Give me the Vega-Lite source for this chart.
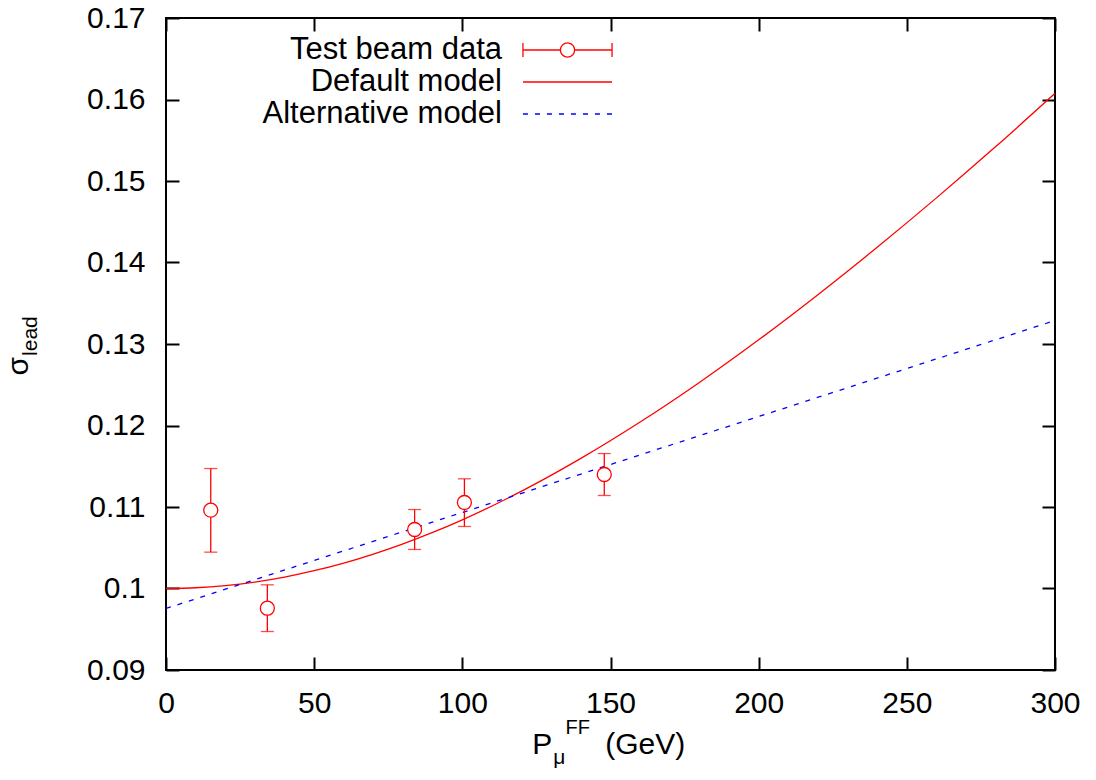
{
  "$schema": "https://vega.github.io/schema/vega-lite/v6.json",
  "width": 889,
  "height": 652,
  "autosize": "none",
  "padding": {"left": 166, "top": 18, "right": 41, "bottom": 110},
  "background": "white",
  "config": {
    "view": {"stroke": "#000000", "strokeWidth": 2},
    "font": "Liberation Sans",
    "axis": {"domain": false, "grid": false, "tickColor": "#000000", "tickWidth": 2, "tickSize": -13, "labelColor": "#000000", "labelFont": "Liberation Sans", "labelFontSize": 30}
  },
  "datasets": {
    "pts": [
      {"series": "Test beam data", "p": 15.1, "sigma": 0.10961, "lo": 0.10446, "hi": 0.11472},
      {"series": "Test beam data", "p": 34.2, "sigma": 0.09758, "lo": 0.09472, "hi": 0.10045},
      {"series": "Test beam data", "p": 83.9, "sigma": 0.10724, "lo": 0.10479, "hi": 0.10969},
      {"series": "Test beam data", "p": 100.7, "sigma": 0.11055, "lo": 0.10761, "hi": 0.11346},
      {"series": "Test beam data", "p": 147.9, "sigma": 0.11399, "lo": 0.11141, "hi": 0.11656}
    ],
    "lines": [
      {"series": "Default model", "p": 0, "sigma": 0.1},
      {"series": "Default model", "p": 10, "sigma": 0.10009},
      {"series": "Default model", "p": 20, "sigma": 0.10035},
      {"series": "Default model", "p": 30, "sigma": 0.10079},
      {"series": "Default model", "p": 40, "sigma": 0.1014},
      {"series": "Default model", "p": 50, "sigma": 0.10218},
      {"series": "Default model", "p": 60, "sigma": 0.10312},
      {"series": "Default model", "p": 70, "sigma": 0.10423},
      {"series": "Default model", "p": 80, "sigma": 0.10548},
      {"series": "Default model", "p": 90, "sigma": 0.10688},
      {"series": "Default model", "p": 100, "sigma": 0.10843},
      {"series": "Default model", "p": 120, "sigma": 0.11194},
      {"series": "Default model", "p": 140, "sigma": 0.11596},
      {"series": "Default model", "p": 160, "sigma": 0.12042},
      {"series": "Default model", "p": 180, "sigma": 0.12528},
      {"series": "Default model", "p": 200, "sigma": 0.13051},
      {"series": "Default model", "p": 220, "sigma": 0.13605},
      {"series": "Default model", "p": 240, "sigma": 0.14187},
      {"series": "Default model", "p": 260, "sigma": 0.14793},
      {"series": "Default model", "p": 280, "sigma": 0.15422},
      {"series": "Default model", "p": 300, "sigma": 0.16075},
      {"series": "Alternative model", "p": 0, "sigma": 0.09755},
      {"series": "Alternative model", "p": 100, "sigma": 0.10933},
      {"series": "Alternative model", "p": 200, "sigma": 0.1211},
      {"series": "Alternative model", "p": 300, "sigma": 0.13288}
    ],
    "keys": [
      {"series": "Test beam data"},
      {"series": "Default model"},
      {"series": "Alternative model"}
    ]
  },
  "resolve": {"axis": {"x": "independent", "y": "independent"}},
  "layer": [
    {
      "data": {"name": "lines"},
      "transform": [{"filter": "datum.series === 'Default model'"}],
      "mark": {"type": "line", "strokeWidth": 1.3, "color": "#ff0000", "interpolate": "monotone", "clip": true},
      "encoding": {
        "x": {"field": "p", "type": "quantitative", "title": null, "scale": {"domain": [0, 300], "nice": false, "zero": false}, "axis": {"orient": "bottom", "values": [0, 50, 100, 150, 200, 250, 300], "labelPadding": 31, "labelFlush": false, "title": null}},
        "y": {"field": "sigma", "type": "quantitative", "title": null, "scale": {"domain": [0.09, 0.17], "nice": false, "zero": false}, "axis": {"orient": "left", "values": [0.09, 0.1, 0.11, 0.12, 0.13, 0.14, 0.15, 0.16, 0.17], "format": "~g", "labelPadding": 34, "labelFlush": false, "title": null}}
      }
    },
    {
      "data": {"name": "lines"},
      "transform": [{"filter": "datum.series === 'Alternative model'"}],
      "mark": {"type": "line", "strokeWidth": 1.3, "color": "#0000ff", "strokeDash": [5, 7], "clip": true},
      "encoding": {
        "x": {"field": "p", "type": "quantitative", "title": null, "axis": {"orient": "top", "values": [0, 50, 100, 150, 200, 250, 300], "labels": false, "title": null}},
        "y": {"field": "sigma", "type": "quantitative", "title": null, "axis": {"orient": "right", "values": [0.09, 0.1, 0.11, 0.12, 0.13, 0.14, 0.15, 0.16, 0.17], "labels": false, "title": null}}
      }
    },
    {
      "data": {"name": "pts"},
      "mark": {"type": "rule", "color": "#ff0000", "strokeWidth": 1.3},
      "encoding": {
        "x": {"field": "p", "type": "quantitative", "axis": null},
        "y": {"field": "lo", "type": "quantitative", "axis": null},
        "y2": {"field": "hi"}
      }
    },
    {
      "data": {"name": "pts"},
      "mark": {"type": "tick", "orient": "horizontal", "color": "#ff0000", "size": 13, "thickness": 1.3},
      "encoding": {
        "x": {"field": "p", "type": "quantitative", "axis": null},
        "y": {"field": "lo", "type": "quantitative", "axis": null}
      }
    },
    {
      "data": {"name": "pts"},
      "mark": {"type": "tick", "orient": "horizontal", "color": "#ff0000", "size": 13, "thickness": 1.3},
      "encoding": {
        "x": {"field": "p", "type": "quantitative", "axis": null},
        "y": {"field": "hi", "type": "quantitative", "axis": null}
      }
    },
    {
      "data": {"name": "pts"},
      "mark": {"type": "point", "shape": "circle", "filled": false, "size": 196, "strokeWidth": 1.3, "color": "#ff0000", "fill": "#ffffff", "fillOpacity": 1, "opacity": 1},
      "encoding": {
        "x": {"field": "p", "type": "quantitative", "axis": null},
        "y": {"field": "sigma", "type": "quantitative", "axis": null}
      }
    },
    {
      "data": {"name": "keys"},
      "mark": {"type": "point", "filled": false, "opacity": 0, "size": 484, "strokeWidth": 1.3},
      "encoding": {
        "color": {
          "field": "series", "type": "nominal",
          "scale": {"domain": ["Test beam data", "Default model", "Alternative model"], "range": ["#ff0000", "#ff0000", "#0000ff"]},
          "legend": {
            "title": null, "orient": "none", "legendX": 386, "legendY": 16.5, "padding": 0,
            "symbolSize": 484, "symbolStrokeWidth": 1.3, "symbolOpacity": 1, "rowPadding": 0,
            "labelAlign": "right", "labelBaseline": "middle", "labelOffset": -81, "labelFontSize": 31, "labelFont": "Liberation Sans", "labelColor": "#000000", "labelLimit": 600
          }
        },
        "shape": {
          "field": "series", "type": "nominal",
          "scale": {"domain": ["Test beam data", "Default model", "Alternative model"], "range": ["M-4.05,0H-0.64M0.64,0H4.05M-4.05,-0.64V0.64M4.05,-0.64V0.64M0.64,0A0.64,0.64 0 1,1 -0.64,0A0.64,0.64 0 1,1 0.64,0", "M-4.05,0H4.05", "M-4.05,0H4.05"]}
        },
        "strokeDash": {
          "field": "series", "type": "nominal",
          "scale": {"domain": ["Test beam data", "Default model", "Alternative model"], "range": [[1, 0], [1, 0], [5, 7]]}
        }
      }
    },
    {
      "data": {"values": [{}]},
      "mark": {"type": "text", "text": "P", "fontSize": 30, "align": "left", "baseline": "alphabetic", "color": "#000000"},
      "encoding": {"x": {"datum": 123.6, "type": "quantitative", "axis": null}, "y": {"datum": 0.079632, "type": "quantitative", "axis": null}}
    },
    {
      "data": {"values": [{}]},
      "mark": {"type": "text", "text": "μ", "fontSize": 21, "align": "left", "baseline": "alphabetic", "color": "#000000"},
      "encoding": {"x": {"datum": 130.7, "type": "quantitative", "axis": null}, "y": {"datum": 0.078503, "type": "quantitative", "axis": null}}
    },
    {
      "data": {"values": [{}]},
      "mark": {"type": "text", "text": "FF", "fontSize": 20, "align": "left", "baseline": "alphabetic", "color": "#000000"},
      "encoding": {"x": {"datum": 134.8, "type": "quantitative", "axis": null}, "y": {"datum": 0.082086, "type": "quantitative", "axis": null}}
    },
    {
      "data": {"values": [{}]},
      "mark": {"type": "text", "text": "(GeV)", "fontSize": 30, "align": "left", "baseline": "alphabetic", "color": "#000000"},
      "encoding": {"x": {"datum": 148.2, "type": "quantitative", "axis": null}, "y": {"datum": 0.079632, "type": "quantitative", "axis": null}}
    },
    {
      "data": {"values": [{}]},
      "mark": {"type": "text", "text": "σ", "fontSize": 30, "align": "left", "baseline": "alphabetic", "angle": 270, "color": "#000000"},
      "encoding": {"x": {"datum": -46.57, "type": "quantitative", "axis": null}, "y": {"datum": 0.126135, "type": "quantitative", "axis": null}}
    },
    {
      "data": {"values": [{}]},
      "mark": {"type": "text", "text": "lead", "fontSize": 21, "align": "left", "baseline": "alphabetic", "angle": 270, "color": "#000000"},
      "encoding": {"x": {"datum": -43.54, "type": "quantitative", "axis": null}, "y": {"datum": 0.12854, "type": "quantitative", "axis": null}}
    }
  ]
}
